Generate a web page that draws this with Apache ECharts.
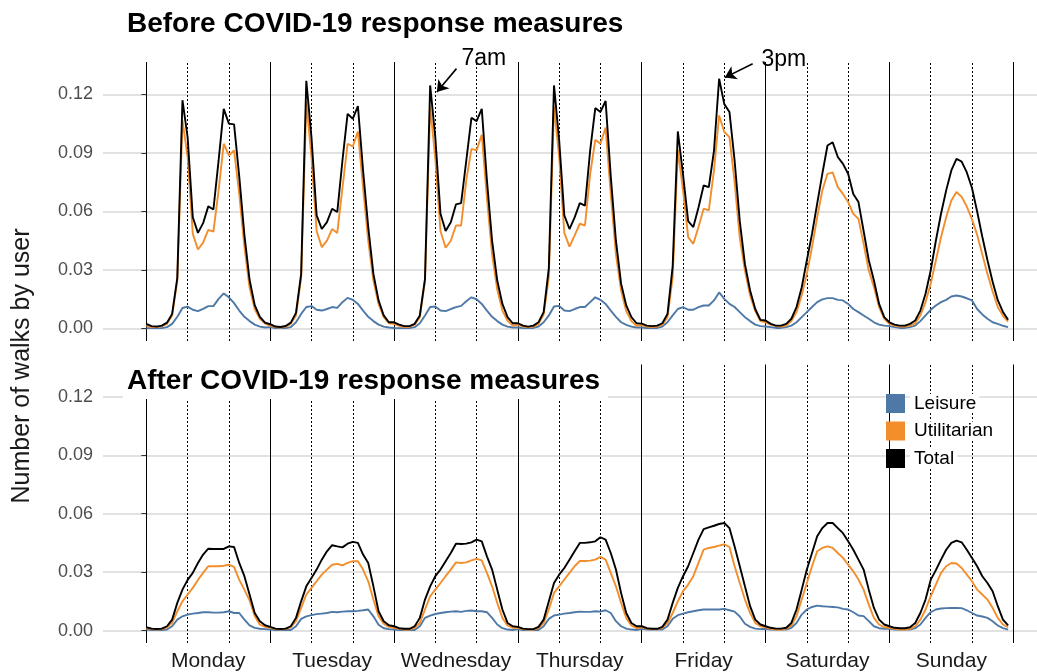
<!DOCTYPE html>
<html>
<head>
<meta charset="utf-8">
<title>Walks by hour</title>
<script src="https://cdn.jsdelivr.net/npm/echarts@6/dist/echarts.min.js"></script>
<style>
  html, body { margin: 0; padding: 0; background: #fff; }
  #main { width: 1037px; height: 672px; }
</style>
</head>
<body>
<div id="main"></div>
<script>
// hour of week index 0..167, Monday 00h first
var days = ['Monday', 'Tuesday', 'Wednesday', 'Thursday', 'Friday', 'Saturday', 'Sunday'];
var dayStarts = [0, 24, 48, 72, 96, 120, 144, 168];
var dayMids = [12, 36, 60, 84, 108, 132, 156];
var markHours = [8, 16, 32, 40, 56, 64, 80, 88, 104, 112, 128, 136, 152, 160];
var yTicks = [0, 0.03, 0.06, 0.09, 0.12];

// before COVID-19 response measures
var beforeLeisure = [
  0.0002,0.0002,0.0002,0.0002,0.0007,0.0024,0.006,0.0105,0.0112,0.0096,0.0089,0.0101,0.0115,0.0115,0.0152,0.018,0.016,0.013,0.0092,0.006,0.0038,0.002,0.001,0.0005,
  0.0007,0.0002,0.0002,0.0002,0.0007,0.0032,0.0075,0.011,0.0115,0.0096,0.0092,0.010,0.011,0.0106,0.0135,0.0157,0.0147,0.0126,0.0092,0.006,0.0038,0.002,0.001,0.0005,
  0.0003,0.0002,0.0002,0.0002,0.0007,0.0027,0.0067,0.011,0.0113,0.0092,0.0089,0.010,0.011,0.0116,0.014,0.016,0.015,0.0126,0.0092,0.006,0.0038,0.002,0.001,0.0005,
  0.0005,0.0002,0.0002,0.0003,0.001,0.0032,0.0067,0.0113,0.0116,0.0092,0.0089,0.010,0.011,0.011,0.0135,0.016,0.0147,0.0126,0.0092,0.006,0.0032,0.0019,0.001,0.0005,
  0.0005,0.0003,0.0003,0.0003,0.001,0.0032,0.0067,0.010,0.011,0.0096,0.0096,0.011,0.0118,0.0118,0.0144,0.0185,0.0152,0.0126,0.011,0.0084,0.0058,0.0038,0.002,0.0012,
  0.001,0.0007,0.0003,0.0003,0.0007,0.0015,0.0032,0.0058,0.0084,0.011,0.0135,0.0149,0.0156,0.0156,0.0147,0.0144,0.0126,0.010,0.0084,0.0067,0.005,0.0032,0.002,0.0015,
  0.0012,0.0007,0.0003,0.0003,0.0007,0.0015,0.0038,0.0067,0.0096,0.0118,0.0135,0.0147,0.0164,0.0169,0.0164,0.0155,0.0144,0.010,0.0072,0.005,0.0032,0.0024,0.0014,0.0007
];
var beforeUtilitarian = [
  0.0015,0.0007,0.0007,0.0012,0.0024,0.0067,0.0246,0.1067,0.088,0.0485,0.0405,0.044,0.0506,0.0497,0.0708,0.0947,0.0887,0.0913,0.069,0.042,0.021,0.010,0.005,0.0025,
  0.0015,0.0007,0.0005,0.001,0.0024,0.0067,0.026,0.116,0.088,0.050,0.0417,0.045,0.051,0.049,0.072,0.0947,0.0933,0.101,0.072,0.045,0.0246,0.0126,0.0058,0.0027,
  0.0024,0.0014,0.0007,0.001,0.002,0.0058,0.0246,0.1138,0.087,0.050,0.0414,0.045,0.0528,0.0528,0.0759,0.0921,0.0913,0.0993,0.067,0.038,0.020,0.0092,0.004,0.0015,
  0.002,0.001,0.0007,0.001,0.0024,0.0072,0.0263,0.1138,0.0879,0.049,0.042,0.0477,0.0537,0.0528,0.079,0.0967,0.0947,0.103,0.069,0.038,0.0195,0.0089,0.0038,0.0014,
  0.0018,0.001,0.0007,0.001,0.002,0.0058,0.0263,0.0916,0.0708,0.0468,0.0434,0.052,0.0614,0.0605,0.081,0.1092,0.1007,0.0981,0.075,0.0465,0.0297,0.0169,0.0089,0.0038,
  0.0032,0.002,0.0012,0.001,0.0015,0.0038,0.0084,0.017,0.028,0.0417,0.057,0.0708,0.0793,0.080,0.0725,0.069,0.0648,0.0588,0.0562,0.0434,0.0297,0.0212,0.011,0.005,
  0.0024,0.0015,0.001,0.001,0.0015,0.0027,0.0067,0.0135,0.0229,0.0349,0.0468,0.057,0.0656,0.070,0.0675,0.0625,0.056,0.048,0.038,0.028,0.019,0.011,0.0065,0.0035
];
var beforeTotal = [
  0.0024,0.0012,0.001,0.0015,0.003,0.0075,0.026,0.117,0.098,0.057,0.049,0.054,0.0626,0.061,0.086,0.1126,0.105,0.1046,0.078,0.048,0.025,0.012,0.006,0.003,
  0.0022,0.001,0.0008,0.0013,0.003,0.008,0.028,0.127,0.098,0.058,0.051,0.0545,0.0614,0.0597,0.086,0.110,0.1075,0.114,0.081,0.052,0.028,0.0144,0.0067,0.0032,
  0.0032,0.002,0.0012,0.0012,0.0024,0.0067,0.0255,0.1246,0.098,0.0588,0.050,0.0545,0.0636,0.0643,0.086,0.108,0.1063,0.1126,0.076,0.045,0.0246,0.0126,0.0058,0.0027,
  0.0027,0.0015,0.001,0.0015,0.0032,0.0084,0.031,0.1246,0.0964,0.058,0.051,0.057,0.0643,0.063,0.091,0.113,0.111,0.1166,0.078,0.045,0.023,0.0118,0.0058,0.0027,
  0.0025,0.0015,0.0012,0.0015,0.0027,0.0075,0.032,0.101,0.079,0.055,0.052,0.062,0.0733,0.0725,0.091,0.128,0.115,0.111,0.086,0.055,0.033,0.0195,0.010,0.0044,
  0.0041,0.0024,0.0015,0.0015,0.0024,0.005,0.011,0.021,0.035,0.0485,0.064,0.0793,0.0938,0.0955,0.0879,0.0844,0.0793,0.069,0.0648,0.050,0.035,0.0246,0.0126,0.0058,
  0.0032,0.002,0.0015,0.0015,0.0024,0.0041,0.0092,0.0178,0.0297,0.045,0.0588,0.0708,0.081,0.087,0.0855,0.080,0.072,0.060,0.047,0.035,0.024,0.0145,0.0085,0.0045
];

// after COVID-19 response measures
var afterLeisure = [
  0.0005,0.0003,0.0003,0.0003,0.0005,0.0022,0.0056,0.0073,0.0082,0.0087,0.009,0.0094,0.0094,0.0092,0.0092,0.0094,0.0099,0.009,0.009,0.0056,0.0026,0.0014,0.0009,0.0007,
  0.0005,0.0003,0.0003,0.0003,0.0003,0.0022,0.006,0.0073,0.0079,0.0084,0.0087,0.009,0.0096,0.0094,0.0097,0.0099,0.0099,0.0101,0.0104,0.0108,0.0073,0.003,0.0012,0.0007,
  0.0005,0.0003,0.0003,0.0003,0.0003,0.0022,0.0065,0.0077,0.0085,0.009,0.0094,0.0097,0.0099,0.0096,0.0101,0.0103,0.0099,0.0099,0.0094,0.0065,0.0031,0.0012,0.0005,0.0003,
  0.0007,0.0003,0.0003,0.0003,0.0003,0.0022,0.006,0.0077,0.0082,0.0087,0.009,0.0094,0.0097,0.0096,0.0096,0.0099,0.0097,0.0104,0.009,0.0048,0.0022,0.001,0.0005,0.0003,
  0.0009,0.0005,0.0005,0.0005,0.0005,0.0022,0.006,0.0079,0.0087,0.0094,0.0099,0.0104,0.0108,0.0108,0.0108,0.0108,0.0111,0.0104,0.0097,0.0072,0.0035,0.0019,0.001,0.0007,
  0.0009,0.0005,0.0005,0.0005,0.0005,0.0014,0.0039,0.0082,0.0108,0.0121,0.0128,0.0125,0.0123,0.0121,0.0119,0.0111,0.0108,0.0094,0.0077,0.0074,0.0048,0.0022,0.0012,0.0009,
  0.0009,0.0005,0.0005,0.0005,0.0005,0.0012,0.0031,0.0065,0.0094,0.0108,0.0113,0.0115,0.0116,0.0116,0.0115,0.0104,0.009,0.0077,0.0072,0.0065,0.0048,0.0026,0.0012,0.0005
];
var afterUtilitarian = [
  0.0012,0.0009,0.0005,0.0009,0.0017,0.004,0.0099,0.015,0.0185,0.0219,0.026,0.0296,0.033,0.033,0.033,0.0333,0.0338,0.0327,0.026,0.021,0.0155,0.0075,0.003,0.0019,
  0.0014,0.0009,0.0005,0.0009,0.0017,0.0048,0.0116,0.0185,0.0219,0.0253,0.0287,0.0313,0.0338,0.0342,0.0335,0.0347,0.0356,0.0356,0.0313,0.0253,0.0159,0.0074,0.0035,0.0019,
  0.0014,0.0009,0.0005,0.0005,0.0014,0.0039,0.0108,0.0176,0.021,0.0244,0.0279,0.0313,0.035,0.0347,0.035,0.036,0.0368,0.036,0.0296,0.0227,0.0142,0.0065,0.0026,0.0014,
  0.0014,0.0007,0.0005,0.0005,0.0012,0.0039,0.0108,0.0193,0.0227,0.0262,0.0296,0.033,0.0357,0.0357,0.0359,0.0364,0.0378,0.0364,0.0296,0.0227,0.0142,0.0065,0.0026,0.0012,
  0.0017,0.0009,0.0007,0.0007,0.0014,0.0039,0.009,0.015,0.0202,0.0236,0.0279,0.0347,0.0415,0.0424,0.0429,0.0436,0.0443,0.0429,0.033,0.0244,0.0159,0.0091,0.0039,0.0022,
  0.0017,0.0009,0.0005,0.0005,0.001,0.0026,0.0074,0.0159,0.0244,0.033,0.0407,0.0424,0.0432,0.0424,0.0398,0.0373,0.0338,0.0304,0.0262,0.021,0.0133,0.0065,0.0031,0.0017,
  0.0014,0.0009,0.0005,0.0005,0.0009,0.0022,0.0056,0.0108,0.0176,0.0236,0.0296,0.033,0.0347,0.0344,0.0321,0.0287,0.0253,0.021,0.0185,0.0159,0.0116,0.0065,0.0031,0.0017
];
var afterTotal = [
  0.0017,0.001,0.0008,0.001,0.0022,0.0056,0.0142,0.021,0.026,0.0296,0.0347,0.039,0.042,0.0419,0.0419,0.0419,0.0432,0.0429,0.0347,0.0279,0.0185,0.009,0.0048,0.0027,
  0.0019,0.001,0.0008,0.001,0.0022,0.0065,0.015,0.0227,0.027,0.0313,0.0364,0.0407,0.0438,0.0432,0.0427,0.0446,0.0455,0.045,0.039,0.0347,0.0227,0.0099,0.0048,0.0027,
  0.0022,0.0012,0.0009,0.0009,0.0022,0.0065,0.0159,0.0227,0.0279,0.0313,0.0356,0.0398,0.0446,0.0444,0.0446,0.0453,0.0467,0.0458,0.0381,0.0313,0.021,0.0108,0.0039,0.0022,
  0.0019,0.001,0.0007,0.0007,0.0019,0.0056,0.015,0.0244,0.0287,0.0321,0.0364,0.0407,0.045,0.045,0.0453,0.0458,0.0479,0.0467,0.0398,0.0313,0.0193,0.009,0.0039,0.0022,
  0.0022,0.0012,0.0009,0.0009,0.0019,0.0056,0.0142,0.0219,0.0279,0.033,0.0398,0.0467,0.0521,0.053,0.0538,0.0547,0.0552,0.0526,0.0432,0.033,0.0227,0.0125,0.0056,0.0031,
  0.0022,0.0014,0.001,0.001,0.0014,0.0039,0.0108,0.021,0.0313,0.0398,0.0484,0.0526,0.0552,0.0552,0.0526,0.050,0.0458,0.0415,0.0364,0.0313,0.021,0.0116,0.0056,0.0031,
  0.0022,0.0014,0.0012,0.0012,0.0017,0.0039,0.009,0.0159,0.026,0.031,0.0364,0.0415,0.045,0.0462,0.0453,0.0415,0.0373,0.033,0.0279,0.0244,0.0202,0.0125,0.0056,0.0026
];

var seriesNames = ['Leisure', 'Utilitarian', 'Total'];
var seriesColors = ['#4e79a7', '#f28e2b', '#000000'];
var panels = [
  [beforeLeisure, beforeUtilitarian, beforeTotal],
  [afterLeisure, afterUtilitarian, afterTotal]
];

var FONT = '"Liberation Sans", Arial, Helvetica, sans-serif';

function pts(arr) {
  return arr.map(function (v, i) { return [i, v]; });
}

var chart = echarts.init(document.getElementById('main'), null, { renderer: 'canvas' });

var grids = [], xAxes = [], yAxes = [], series = [];
[62, 364.5].forEach(function (top, p) {
  grids.push({ left: 103, top: top, right: 0, height: 279, containLabel: false });
  xAxes.push({
    type: 'value', gridIndex: p, min: -8.4, max: 172.6,
    axisLine: { show: false },
    axisTick: { show: true, length: 5, customValues: dayStarts, lineStyle: { color: '#333', width: 1 } },
    axisLabel: {
      show: p === 1, customValues: dayMids, margin: 8,
      fontFamily: FONT, fontSize: 21, color: '#1a1a1a',
      formatter: function (v) { return days[Math.round((v - 12) / 24)]; }
    },
    splitLine: { show: false }
  });
  yAxes.push({
    type: 'value', gridIndex: p, min: -0.0064, max: 0.1366,
    axisLine: { show: false },
    axisTick: { show: true, length: 5, customValues: yTicks, lineStyle: { color: '#333', width: 1 } },
    axisLabel: {
      customValues: yTicks, margin: 10, fontFamily: FONT, fontSize: 18, color: '#4d4d4d',
      formatter: function (v) { return v.toFixed(2); }
    },
    splitLine: { show: true, lineStyle: { color: '#d9d9d9', width: 1.6 } }
  });

  // day separators and 7am / 3pm guides
  var refs = dayStarts.map(function (h) {
    return { xAxis: h, lineStyle: { color: '#000', width: 1, type: 'solid' } };
  }).concat(markHours.map(function (h) {
    return { xAxis: h, lineStyle: { color: '#000', width: 1, type: [2, 2] } };
  }));
  series.push({
    type: 'line', xAxisIndex: p, yAxisIndex: p, data: [], z: 1, silent: true,
    markLine: { silent: true, z: 1, symbol: ['none', 'none'], label: { show: false }, animation: false, data: refs }
  });

  panels[p].forEach(function (vals, k) {
    series.push({
      name: seriesNames[k], type: 'line', xAxisIndex: p, yAxisIndex: p,
      data: pts(vals), showSymbol: false, symbol: 'none', z: 3 + k, silent: true,
      lineStyle: { color: seriesColors[k], width: 1.9 },
      itemStyle: { color: seriesColors[k] }
    });
  });
});

// arrows pointing at the 7am and 3pm peaks (data coordinates of top panel)
series.push({
  type: 'line', xAxisIndex: 0, yAxisIndex: 0, data: [], z: 10, silent: true,
  markLine: {
    silent: true, symbol: ['none', 'arrow'], symbolSize: 11, label: { show: false }, animation: false,
    lineStyle: { color: '#000', width: 1.6, type: 'solid' },
    data: [
      [{ coord: [60.1, 0.1332] }, { coord: [56.3, 0.1212] }],
      [{ coord: [117.5, 0.1357] }, { coord: [112.1, 0.1286] }]
    ]
  }
});

var option = {
  animation: false,
  backgroundColor: '#fff',
  grid: grids,
  xAxis: xAxes,
  yAxis: yAxes,
  legend: {
    data: seriesNames, left: 881, top: 389, orient: 'vertical',
    icon: 'rect', itemWidth: 19, itemHeight: 19, itemGap: 8.5, selectedMode: false,
    textStyle: { fontFamily: FONT, fontSize: 19, color: '#000', backgroundColor: '#fff', padding: [0, 3, 0, 4], lineHeight: 19 }
  },
  graphic: [
    { type: 'text', z: 100, style: { x: 127, y: 24, text: 'Before COVID-19 response measures', font: 'bold 28px ' + FONT, fill: '#000', verticalAlign: 'middle' } },
    { type: 'rect', z: 99, shape: { x: 123, y: 363, width: 485, height: 36 }, style: { fill: '#fff' } },
    { type: 'text', z: 100, style: { x: 127, y: 381, text: 'After COVID-19 response measures', font: 'bold 28px ' + FONT, fill: '#000', verticalAlign: 'middle' } },
    { type: 'text', z: 100, style: { x: 461.5, y: 59, text: '7am', font: '23px ' + FONT, fill: '#000', verticalAlign: 'middle' } },
    { type: 'text', z: 100, style: { x: 761.5, y: 60, text: '3pm', font: '23px ' + FONT, fill: '#000', verticalAlign: 'middle' } },
    { type: 'text', z: 100, x: 22, y: 366, rotation: Math.PI / 2, style: { x: 0, y: 0, text: 'Number of walks by user', font: '25px ' + FONT, fill: '#1a1a1a', align: 'center', verticalAlign: 'middle' } }
  ],
  series: series
};

chart.setOption(option);
</script>
</body>
</html>
